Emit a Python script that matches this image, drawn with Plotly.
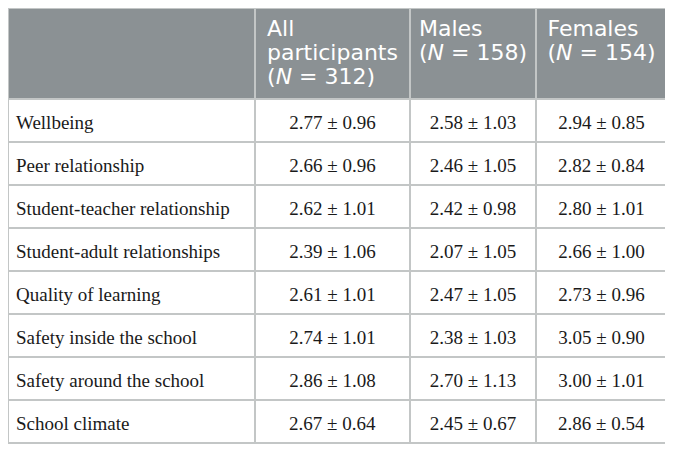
import plotly.graph_objects as go

# table content
measures = [
    "Wellbeing",
    "Peer relationship",
    "Student-teacher relationship",
    "Student-adult relationships",
    "Quality of learning",
    "Safety inside the school",
    "Safety around the school",
    "School climate",
]
all_mean = [2.77, 2.66, 2.62, 2.39, 2.61, 2.74, 2.86, 2.67]
all_sd = [0.96, 0.96, 1.01, 1.06, 1.01, 1.01, 1.08, 0.64]
male_mean = [2.58, 2.46, 2.42, 2.07, 2.47, 2.38, 2.70, 2.45]
male_sd = [1.03, 1.05, 0.98, 1.05, 1.05, 1.03, 1.13, 0.67]
female_mean = [2.94, 2.82, 2.80, 2.66, 2.73, 3.05, 3.00, 2.86]
female_sd = [0.85, 0.84, 1.01, 1.00, 0.96, 0.90, 1.01, 0.54]
headers = [
    [],
    ["All", "participants", "(<i>N</i> = 312)"],
    ["Males", "(<i>N</i> = 158)"],
    ["Females", "(<i>N</i> = 154)"],
]


def big(t, size):
    return f"<span style='font-size:{size}px'>{t}</span>"


def push_down(texts):
    # tiny first line so the real text sits a bit lower in the cell
    return [big("\u00a0", 1) + "<br>" + big(t, 19) for t in texts]


def fmt(means, sds):
    return push_down([f"{m:.2f} \u00b1 {s:.2f}" for m, s in zip(means, sds)])


head_text = ["<br>".join(big(line, 22) for line in h) for h in headers]

W, H = 673, 449
fig = go.Figure(go.Table(
    domain=dict(x=[0, 659 / W], y=[0, 1]),
    columnwidth=[247, 155, 126, 131],
    header=dict(
        values=head_text,
        fill_color="#8b9194",
        line=dict(color="#c3c6c6", width=2),
        align="center",
        font=dict(family="DejaVu Sans", size=18.5, color="white"),
        height=91,
    ),
    cells=dict(
        values=[push_down(measures), fmt(all_mean, all_sd),
                fmt(male_mean, male_sd), fmt(female_mean, female_sd)],
        fill_color="white",
        line=dict(color="#c3c6c6", width=2),
        align=["left", "center", "center", "center"],
        font=dict(family="Liberation Serif", size=16.2, color="#1a1a1a"),
        height=43,
    ),
))
fig.update_layout(width=W, height=H, margin=dict(l=0, r=0, t=0, b=0),
                  paper_bgcolor="white")
fig.write_html("out.html")
